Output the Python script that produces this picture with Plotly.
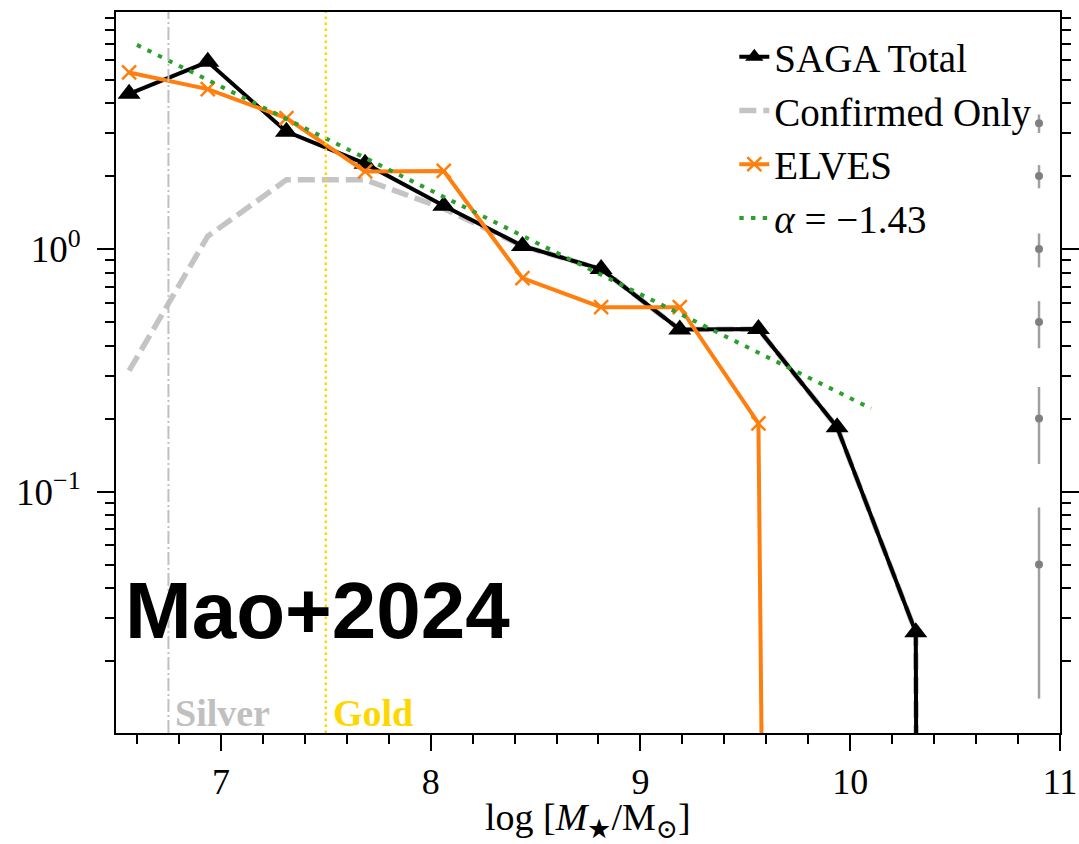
import math
import plotly.graph_objects as go

# ---------------- data ----------------
mass_bins = [6.5625, 6.9375, 7.3125, 7.6875, 8.0625, 8.4375, 8.8125,
             9.1875, 9.5625, 9.9375, 10.3125, 10.6875]
saga_total = [4.37, 5.92, 3.05, 2.25, 1.51, 1.03, 0.827, 0.466, 0.468,
              0.184, 0.0263, 0.0]
confirmed_only = [0.315, 1.13, 1.93, 1.93, 1.47, 1.03, 0.827, 0.466, 0.468,
                  0.184, 0.0263, 0.0]
elves = [5.35, 4.57, 3.47, 2.09, 2.10, 0.759, 0.576, 0.576, 0.191,
         0.0, 0.0, 0.0]
fit_x = [6.6, 10.1]
fit_y = [6.95, 0.22]
fit_label = "<i>α</i> = −1.43"

err_x = [10.9, 10.9, 10.9, 10.9, 10.9, 10.9]
err_y = [3.3, 2.0, 1.0, 0.5, 0.2, 0.05]
err_size = [0.29, 0.22, 0.16, 0.11, 0.07, 0.036]

thresholds = [6.75, 7.5]
threshold_labels = ["Silver", "Gold"]

x_major = [7, 8, 9, 10, 11]
y_major = [0.01, 0.1, 1]
y_major_text = ["10<sup>−2</sup>", "10<sup>−1</sup>", "10<sup>0</sup>"]
y_minor = [m * 10 ** e for e in (-2, -1, 0) for m in range(2, 10)]
x_title = "log [<i>M</i><sub>★</sub>/M<sub>⊙</sub>]"


def clip(vals):
    # log axis: non-positive values are clipped far below the axis (like matplotlib)
    return [v if v > 0 else 1e-100 for v in vals]


SERIF = "Liberation Serif, Times New Roman, DejaVu Serif, serif"
SANS = "Liberation Sans, Arial, Helvetica, sans-serif"

fig = go.Figure()

fig.add_trace(go.Scatter(
    x=mass_bins, y=clip(confirmed_only), mode="lines", name="Confirmed Only",
    line=dict(color="#c4c4c4", width=5.5, dash="17px,7px"), legendrank=2))

fig.add_trace(go.Scatter(
    x=mass_bins, y=clip(saga_total), mode="lines+markers", name="SAGA Total",
    line=dict(color="black", width=4),
    marker=dict(symbol="triangle-up", size=20, color="black"), legendrank=1))

fig.add_trace(go.Scatter(
    x=mass_bins, y=clip(elves), mode="lines+markers", name="ELVES",
    line=dict(color="#ff7f0e", width=4),
    marker=dict(symbol="x-thin", size=14, color="#ff7f0e",
                line=dict(color="#ff7f0e", width=2.5)), legendrank=3))

fig.add_trace(go.Scatter(
    x=fit_x, y=fit_y, mode="lines", name=fit_label,
    line=dict(color="#2ca02c", width=4, dash="4.4px,7.3px"), legendrank=4))

fig.add_trace(go.Scatter(
    x=err_x, y=err_y, mode="markers", showlegend=False,
    marker=dict(color="#808080", size=8),
    error_y=dict(type="data", array=err_size, visible=True,
                 color="#a0a0a0", thickness=2.5, width=0)))

# threshold lines
fig.add_vline(x=thresholds[0], line=dict(color="#c0c0c0", width=2,
                                         dash="13px,3px,2px,3px"))
fig.add_vline(x=thresholds[1], line=dict(color="#ffd700", width=2.5,
                                         dash="2.5px,3.5px"))

for xv, lab, col in zip(thresholds, threshold_labels, ["#c0c0c0", "#ffd700"]):
    fig.add_annotation(x=xv, xref="x", y=0.028, yref="paper",
                       text="<b>%s</b>" % lab, showarrow=False,
                       xanchor="left", yanchor="middle", xshift=5,
                       font=dict(family=SERIF, size=38, color=col))

fig.add_annotation(x=0.007, xref="paper", y=0.1695, yref="paper",
                   text="<b>Mao+2024</b>", showarrow=False,
                   xanchor="left", yanchor="middle",
                   font=dict(family=SANS, size=80, color="black"))

# x-axis title
fig.add_annotation(x=0.5, xref="paper", y=-0.121, yref="paper",
                   text=x_title, showarrow=False,
                   xanchor="center", yanchor="middle",
                   font=dict(family=SERIF, size=38, color="black"))

fig.update_layout(
    width=1079, height=844,
    margin=dict(l=116, r=19, t=12, b=111, autoexpand=False),
    paper_bgcolor="white", plot_bgcolor="white",
    font=dict(family=SERIF, size=36, color="black"),
    legend=dict(x=0.655, y=0.982, xanchor="left", yanchor="top",
                bgcolor="rgba(0,0,0,0)", font=dict(family=SERIF, size=39),
                tracegroupgap=0),
)

fig.update_xaxes(
    range=[6.5, 11], showgrid=False, zeroline=False, automargin=False,
    showline=True, linecolor="black", linewidth=2, mirror=True,
    ticks="outside", ticklen=16, tickwidth=2, tickcolor="black",
    tickmode="array", tickvals=x_major,
    tickfont=dict(family=SERIF, size=36),
    minor=dict(dtick=0.2, tick0=6.6, ticks="outside", ticklen=9,
               tickwidth=1.5, tickcolor="black", showgrid=False),
)

fig.update_yaxes(
    type="log", range=[math.log10(0.0101), math.log10(9.5)],
    showgrid=False, zeroline=False, automargin=False,
    showline=True, linecolor="black", linewidth=2, mirror="ticks",
    ticks="outside", ticklen=17, tickwidth=2, tickcolor="black",
    tickmode="array", tickvals=y_major, ticktext=y_major_text,
    tickfont=dict(family=SERIF, size=37), ticklabelstandoff=9,
    minor=dict(tickmode="array", tickvals=y_minor, ticks="outside",
               ticklen=9, tickwidth=1.5, tickcolor="black", showgrid=False),
)

fig.write_html("out.html")
